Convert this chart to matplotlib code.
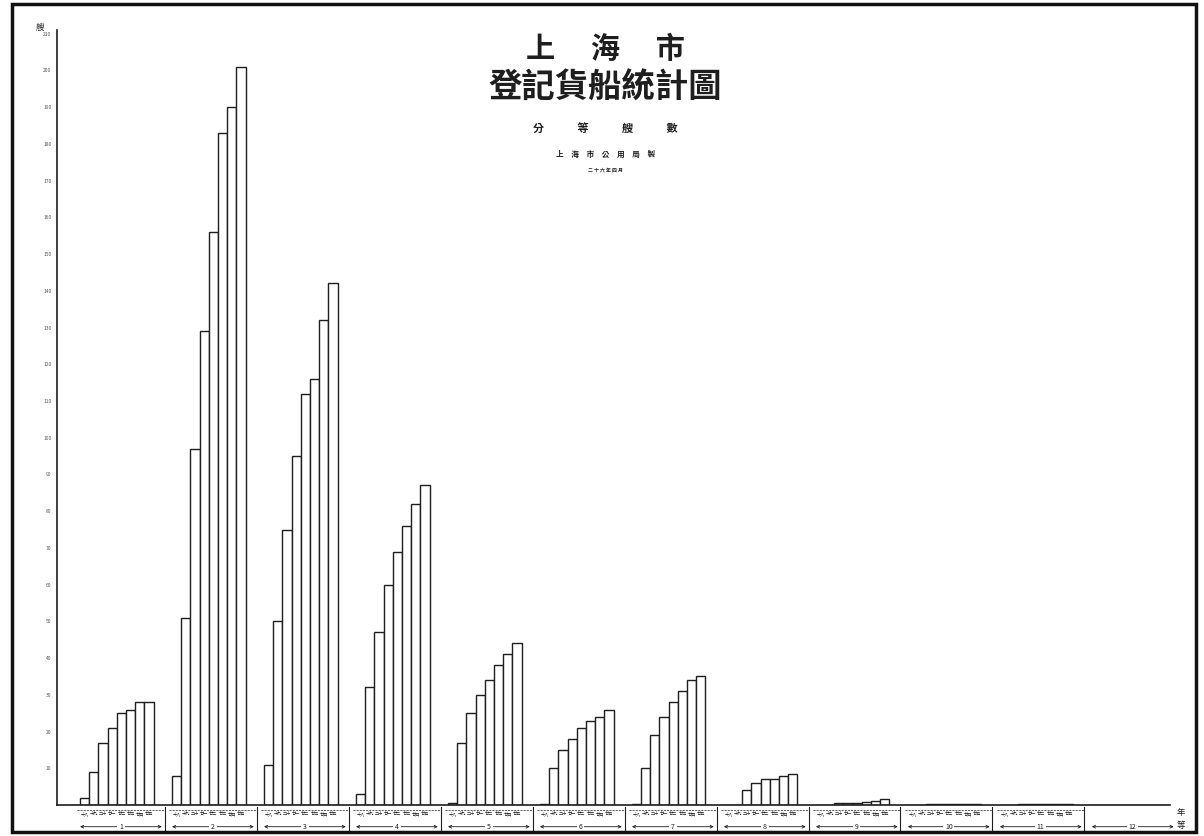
import numpy as np
import matplotlib
matplotlib.use("Agg")
import matplotlib.pyplot as plt
from matplotlib.patches import Rectangle

plt.rcParams['font.family'] = ['Noto Sans CJK TC', 'DejaVu Sans']

# 各等級、各年度登記貨船艘數 (由圖讀出, 估計值)
grades = ["1", "2", "3", "4", "5", "6", "7", "8", "9", "10", "11", "12"]
years = ["十八", "十九", "二十", "廿一", "廿二", "廿三", "廿四", "廿五"]
counts = [
    [2, 9, 17, 21, 25, 26, 28, 28],
    [8, 51, 97, 129, 156, 183, 190, 201],
    [11, 50, 75, 95, 112, 116, 132, 142],
    [3, 32, 47, 60, 69, 76, 82, 87],
    [0.6, 17, 25, 30, 34, 38, 41, 44],
    [0.4, 10, 15, 18, 21, 23, 24, 26],
    [0.4, 10, 19, 24, 28, 31, 34, 35],
    [0, 0, 4, 6, 7, 7, 8, 8.5],
    [0, 0, 0.5, 0.5, 0.5, 0.8, 1.2, 1.5],
    [0, 0, 0.3, 0.3, 0.3, 0.3, 0.3, 0.3],
    [0, 0, 0.2, 0.2, 0.2, 0.2, 0.2, 0.2],
    [0, 0, 0, 0, 0, 0, 0, 0],
]
yticks = np.arange(10, 211, 10)

fig = plt.figure(figsize=(12.04, 8.36), dpi=100)
ax = fig.add_axes([57 / 1204, 31 / 836, 1113 / 1204, 775 / 836])

ink = "#1e1e1e"
for i, vals in enumerate(counts):
    x = i * 10 + np.arange(len(vals))
    ax.bar(x, vals, width=1, align='edge', color='white', edgecolor=ink, linewidth=1.0)

ax.set_xlim(-2.5, 118.5)
ax.set_ylim(0, 211)
for s in ["top", "right"]:
    ax.spines[s].set_visible(False)
ax.spines["left"].set_color(ink)
ax.spines["bottom"].set_color(ink)
ax.spines["left"].set_linewidth(1.2)
ax.spines["bottom"].set_linewidth(1.2)
ax.set_xticks([])
ax.set_yticks(yticks)
ax.set_yticklabels([str(t) for t in yticks], fontsize=3.5, color="#555555")
ax.tick_params(axis='y', length=0, pad=4)

# y 軸單位
ax.text(-0.015, 0.998, "艘", transform=ax.transAxes, fontsize=6, ha='center', va='bottom', color=ink)

# 底部: 年度與等級
xt = ax.get_xaxis_transform()
for i, g in enumerate(grades):
    x0 = i * 10 - 0.3
    x1 = i * 10 + 9.2
    if i < 11:
        ax.plot([x0, x1], [-0.006, -0.006], transform=xt, clip_on=False, color=ink, lw=0.5, ls=(0, (3, 1.5)))
        for j, yr in enumerate(years):
            ax.text(i * 10 + j + 0.5, -0.012, yr, transform=xt, fontsize=3, ha='center', va='center', color=ink)
        ax.plot([x1, x1], [-0.002, -0.033], transform=xt, clip_on=False, color=ink, lw=0.8)
    ax.annotate("", xy=(x0, -0.028), xytext=(x1, -0.028), xycoords=xt, textcoords=xt,
                arrowprops=dict(arrowstyle='<->', lw=0.6, color=ink, mutation_scale=5))
    ax.text((x0 + x1) / 2, -0.028, g, transform=xt, fontsize=5, ha='center', va='center', color=ink,
            bbox=dict(boxstyle='square,pad=0.25', fc='white', ec='none'))
ax.text(1.01, -0.01, "年", transform=ax.transAxes, fontsize=6, ha='center', va='center', color=ink)
ax.text(1.01, -0.027, "等", transform=ax.transAxes, fontsize=6, ha='center', va='center', color=ink)

# 標題
fig.text(0.503, 0.942, "上　 海　 市", fontsize=21, fontweight='bold', ha='center', va='center', color=ink)
fig.text(0.503, 0.894, "登記貨船統計圖", fontsize=24, fontweight='bold', ha='center', va='center', color=ink)
fig.text(0.503, 0.847, "分　　　等　　　艘　　　數", fontsize=8, fontweight='bold', ha='center', va='center', color=ink)
fig.text(0.503, 0.815, "上　海　市　公　用　局　製", fontsize=5.5, fontweight='bold', ha='center', va='center', color=ink)
fig.text(0.503, 0.797, "二 十 六 年 四 月", fontsize=3.5, fontweight='bold', ha='center', va='center', color=ink)

# 外框
fig.patches.append(Rectangle((12 / 1204, 4 / 836), 1184 / 1204, 828 / 836, transform=fig.transFigure,
                             fill=False, ec="#111111", lw=2.5))

fig.savefig("out.png", dpi=100, facecolor='white')
